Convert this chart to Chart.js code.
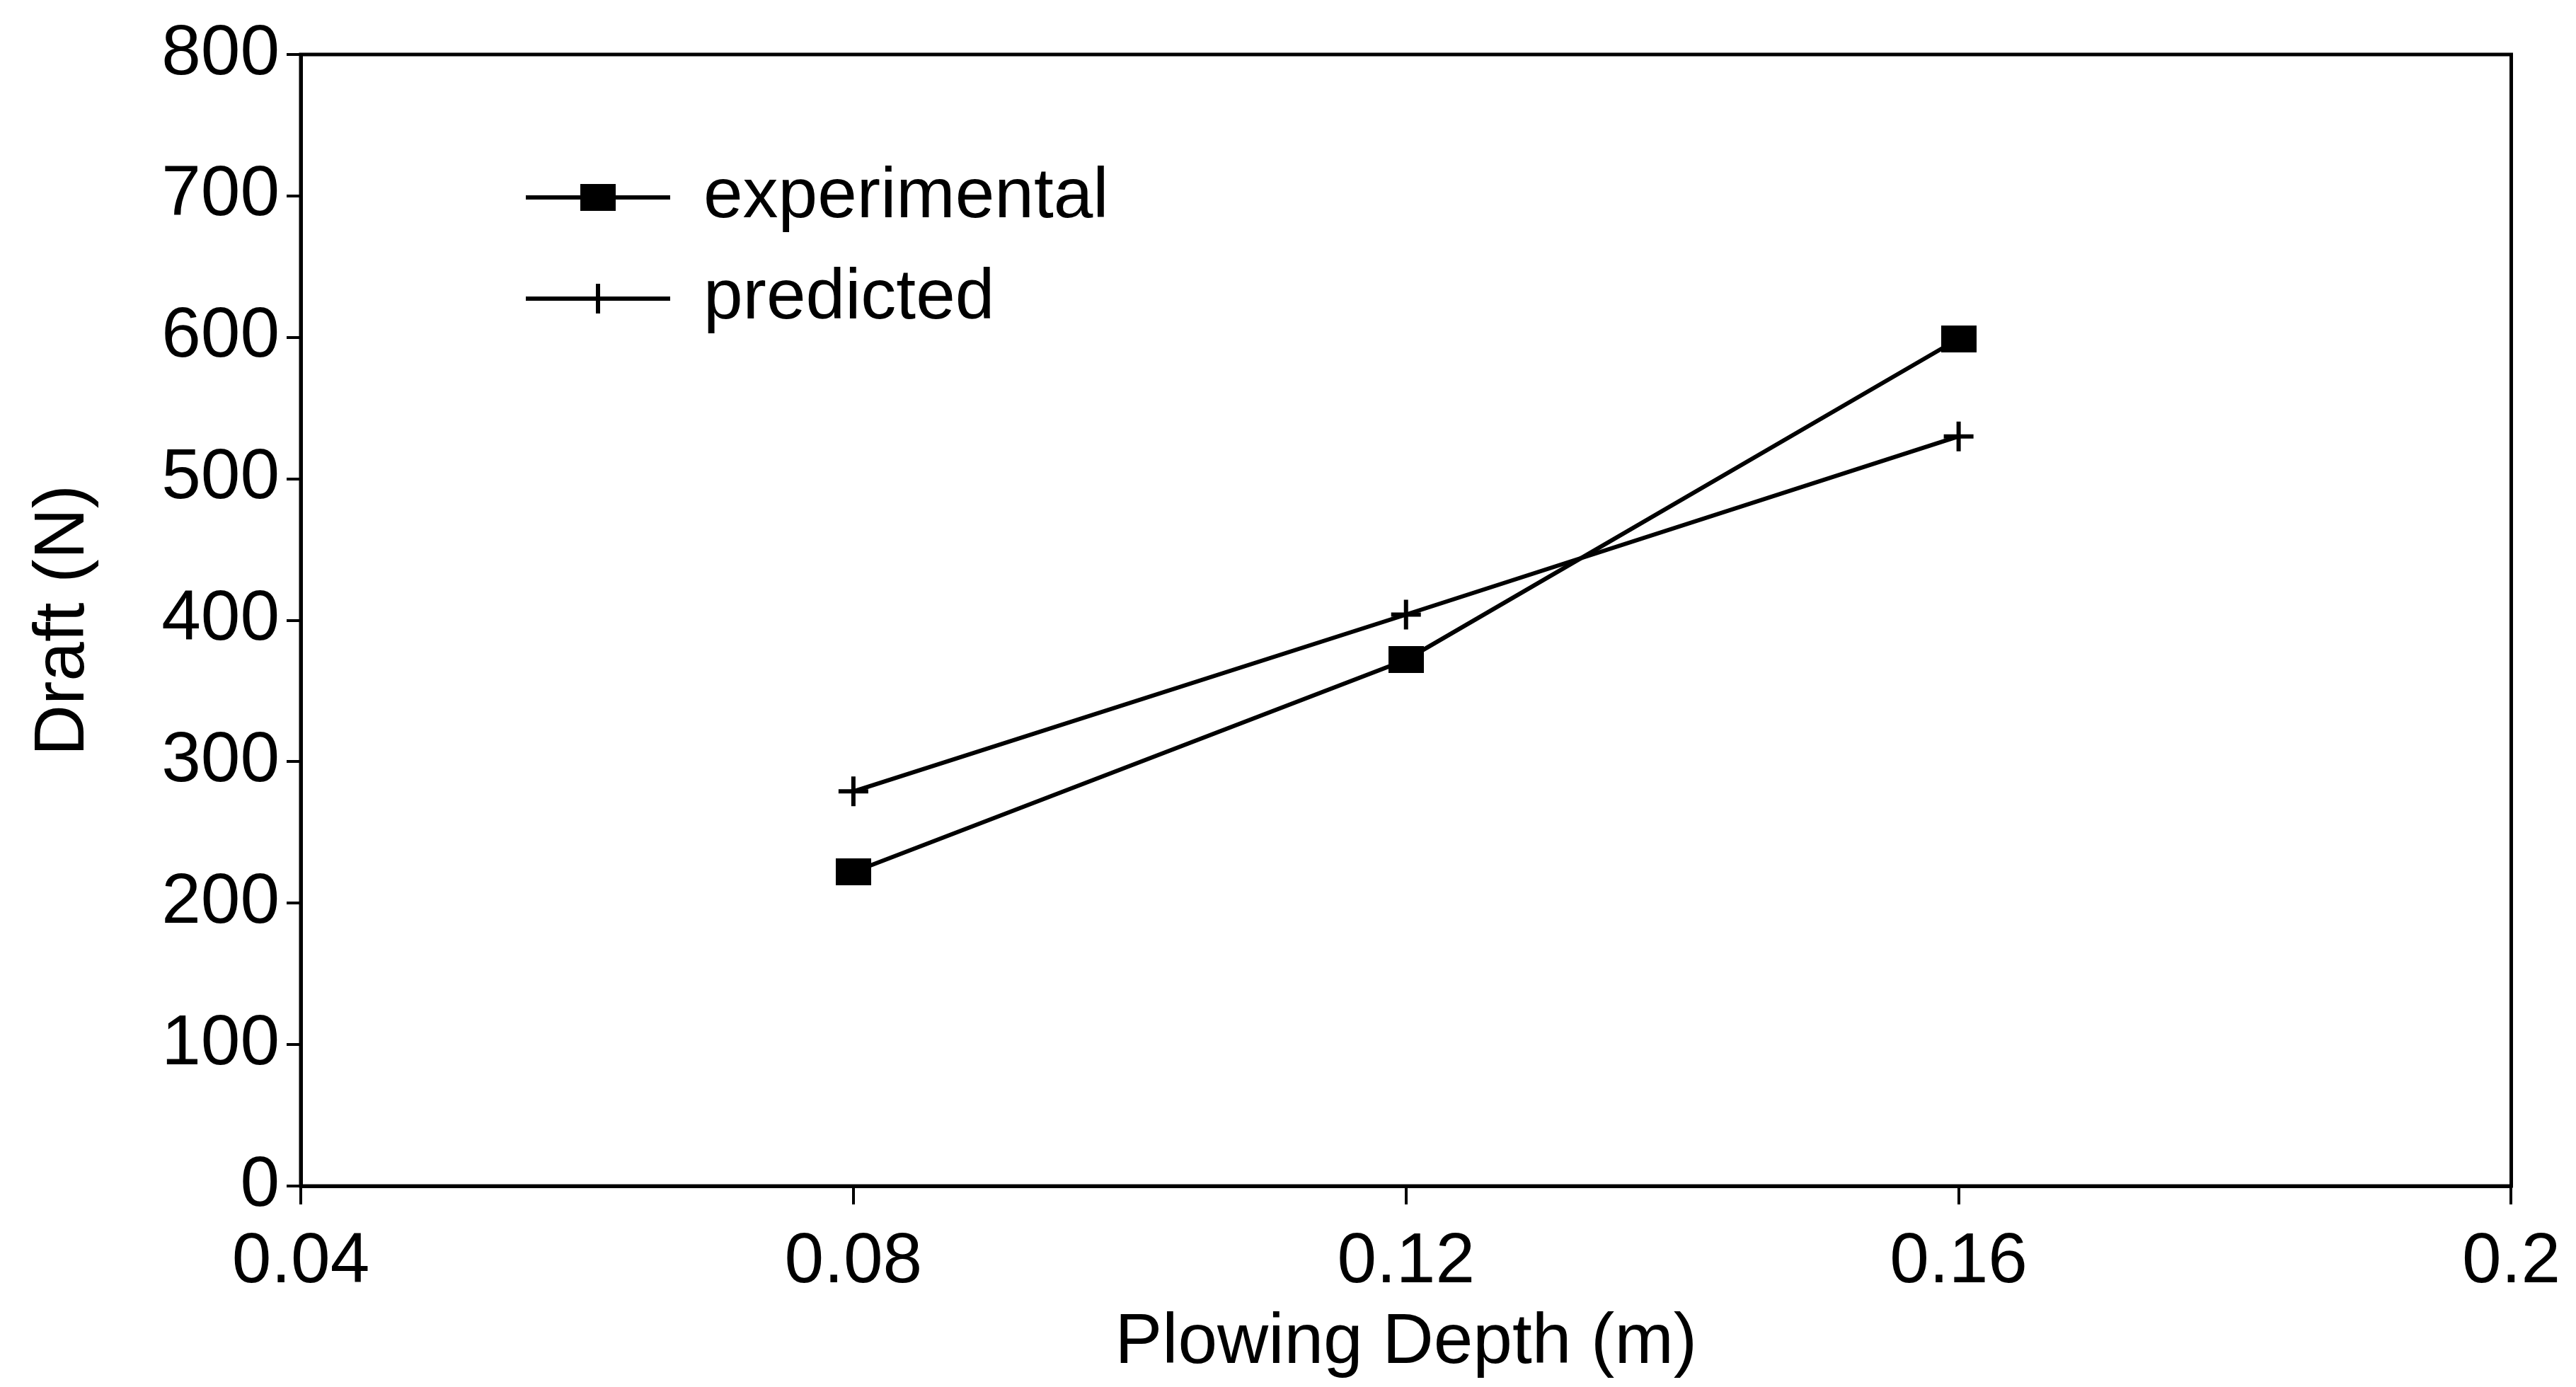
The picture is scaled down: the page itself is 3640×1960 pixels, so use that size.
<!DOCTYPE html>
<html>
<head>
<meta charset="utf-8">
<script src="https://cdn.jsdelivr.net/npm/chart.js@4.4.0/dist/chart.umd.min.js"></script>
<style>
  body { margin: 0; background: #fff; }
  canvas { display: block; }
</style>
</head>
<body>
<canvas id="line-chart" width="3640" height="1960"></canvas>
<script>
// plowing depth (m) and draft (N)
const depths = [0.08, 0.12, 0.16];
const experimental = [222, 372, 599];
const predicted = [279, 404, 530];
const xTickLabels = ["0.04", "0.08", "0.12", "0.16", "0.2"];
const yTickLabels = ["0", "100", "200", "300", "400", "500", "600", "700", "800"];

const font = "'Liberation Sans', Arial, sans-serif";

function toPoints(ys) {
  return depths.map((d, i) => ({ x: d, y: ys[i] }));
}

// filled box marker, a bit wider than tall like the scan
const box = document.createElement('canvas');
box.width = 50;
box.height = 38;
const bctx = box.getContext('2d');
bctx.fillStyle = '#000';
bctx.fillRect(0, 0, 50, 38);

// frame round the plot + legend inside the plot
const framePlugin = {
  id: 'frame',
  afterDraw(chart) {
    const { ctx, chartArea: a } = chart;
    ctx.save();
    ctx.strokeStyle = '#000';
    ctx.lineWidth = 5;
    ctx.strokeRect(a.left, a.top, a.right - a.left, a.bottom - a.top);

    // legend
    const x0 = a.left + 318, x1 = a.left + 522, xm = (x0 + x1) / 2;
    const rows = [a.top + 202, a.top + 345];
    ctx.font = "100px " + font;
    ctx.fillStyle = '#000';
    ctx.textBaseline = 'middle';
    chart.data.datasets.forEach((ds, i) => {
      const y = rows[i];
      ctx.beginPath();
      ctx.lineWidth = ds.borderWidth;
      ctx.moveTo(x0, y);
      ctx.lineTo(x1, y);
      ctx.stroke();
      ctx.fillStyle = '#000';
      Chart.helpers.drawPoint(ctx, {
        pointStyle: ds.pointStyle,
        radius: ds.pointRadius,
        borderWidth: ds.pointBorderWidth,
        rotation: 0
      }, xm, y);
      ctx.fillText(ds.label, a.left + 569, y);
    });
    ctx.restore();
  }
};

new Chart(document.getElementById("line-chart"), {
  type: 'line',
  data: {
    datasets: [{
        data: toPoints(experimental),
        label: "experimental",
        borderColor: "#000",
        backgroundColor: "#000",
        borderWidth: 6,
        pointStyle: box,
        pointRadius: 20,
        pointBorderWidth: 0,
        fill: false
      }, {
        data: toPoints(predicted),
        label: "predicted",
        borderColor: "#000",
        backgroundColor: "#000",
        borderWidth: 6,
        pointStyle: 'cross',
        pointRadius: 21,
        pointBorderWidth: 6,
        fill: false
      }
    ]
  },
  options: {
    responsive: false,
    animation: false,
    devicePixelRatio: 1,
    layout: { padding: { left: 0, right: 70, top: 77, bottom: 0 } },
    plugins: {
      legend: { display: false },
      tooltip: { enabled: false }
    },
    scales: {
      x: {
        type: 'linear',
        min: 0.04,
        max: 0.2,
        afterBuildTicks(scale) {
          scale.ticks = xTickLabels.map(t => ({ value: parseFloat(t) }));
        },
        afterFit(scale) { scale.height = 284; },
        ticks: {
          callback: (v, i) => xTickLabels[i],
          color: '#000',
          font: { family: font, size: 100 },
          padding: 22,
          maxRotation: 0
        },
        grid: { drawOnChartArea: false, color: '#000', lineWidth: 4, tickLength: 26 },
        border: { color: '#000', width: 5 },
        title: {
          display: true,
          text: 'Plowing Depth (m)',
          color: '#000',
          font: { family: font, size: 100 },
          padding: { top: 0, bottom: 2 }
        }
      },
      y: {
        min: 0,
        max: 800,
        afterBuildTicks(scale) {
          scale.ticks = yTickLabels.map(t => ({ value: parseFloat(t) }));
        },
        afterFit(scale) { scale.width = 425; },
        ticks: {
          callback: (v, i) => yTickLabels[i],
          color: '#000',
          font: { family: font, size: 100 },
          padding: 10
        },
        grid: { drawOnChartArea: false, color: '#000', lineWidth: 4, tickLength: 20 },
        border: { color: '#000', width: 5 },
        title: {
          display: true,
          text: 'Draft (N)',
          color: '#000',
          font: { family: font, size: 100 },
          padding: { top: 30, bottom: 0 }
        }
      }
    }
  },
  plugins: [framePlugin]
});
</script>
</body>
</html>
